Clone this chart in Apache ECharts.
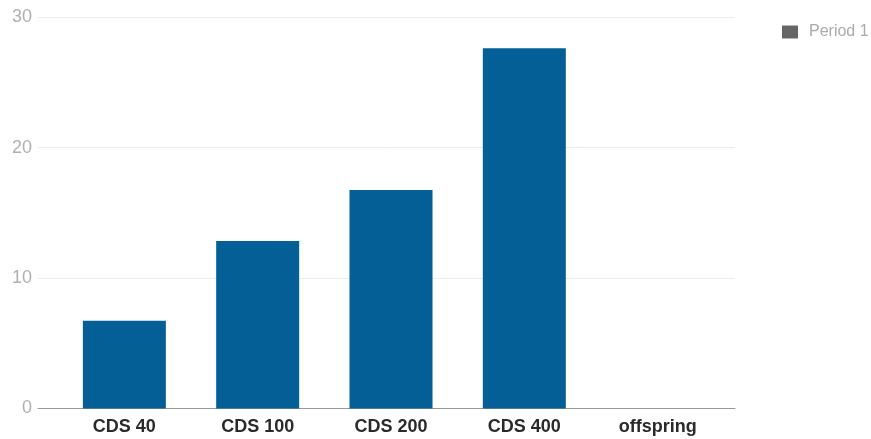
<!DOCTYPE html>
<html>
<head>
<meta charset="utf-8">
<script src="https://cdn.jsdelivr.net/npm/echarts@6/dist/echarts.min.js"></script>
<style>
html,body{margin:0;padding:0;background:#fff;}
#chart{width:871px;height:439px;}
</style>
</head>
<body>
<div id="chart"></div>
<script>
const categories = ['CDS 40', 'CDS 100', 'CDS 200', 'CDS 400', 'offspring'];
const period1 = [6.73, 12.85, 16.76, 27.62, null];
const seriesName = 'Period 1';
const yMin = 0, yMax = 30, yInterval = 10;

const chart = echarts.init(document.getElementById('chart'));
const font = '"Liberation Sans", Arial, sans-serif';
chart.setOption({
  animation: false,
  backgroundColor: '#fff',
  textStyle: { fontFamily: font },
  legend: {
    data: [{ name: seriesName, itemStyle: { color: '#666666' } }],
    left: 777, top: 19,
    icon: 'rect', itemWidth: 16, itemHeight: 13,
    textStyle: { color: '#aaaaaa', fontSize: 16, fontFamily: font, padding: [0, 0, 0, 6] }
  },
  grid: [
    { left: 38, right: 136, top: 17.3, bottom: 30.5 },
    { left: 57.7, right: 146.7, top: 17.3, bottom: 30.5 }
  ],
  xAxis: [
    { type: 'category', gridIndex: 0, data: [''],
      axisLine: { show: true, lineStyle: { color: '#999999', width: 1 } },
      axisTick: { show: false }, axisLabel: { show: false }, splitLine: { show: false } },
    { type: 'category', gridIndex: 1, data: categories,
      axisLine: { show: false }, axisTick: { show: false },
      axisLabel: { color: '#2a2a2a', fontSize: 18, fontWeight: 'bold', fontFamily: font, margin: 9.5 } }
  ],
  yAxis: [
    { type: 'value', gridIndex: 0, min: yMin, max: yMax, interval: yInterval,
      axisLine: { show: false }, axisTick: { show: false },
      axisLabel: { color: '#b0b0b0', fontSize: 18, fontFamily: font, margin: 6 },
      splitLine: { show: true, lineStyle: { color: '#ececec', width: 1 } } },
    { type: 'value', gridIndex: 1, min: yMin, max: yMax, interval: yInterval, show: false,
      splitLine: { show: false } }
  ],
  series: [
    { name: seriesName, type: 'bar', xAxisIndex: 1, yAxisIndex: 1,
      data: period1, barWidth: 83,
      itemStyle: { color: '#035f96' } }
  ]
});
</script>
</body>
</html>
